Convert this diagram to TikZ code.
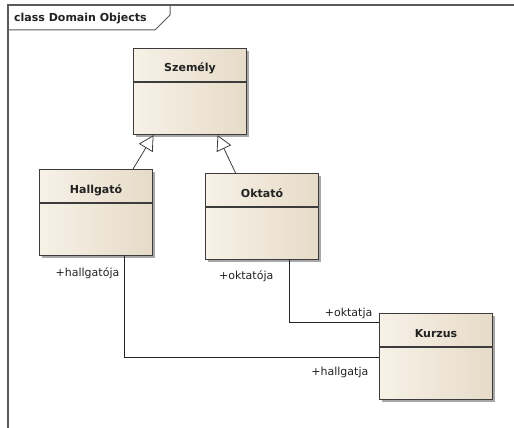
\documentclass[tikz,border=0pt]{standalone}
\usepackage{fontspec}
\setmainfont{DejaVu Sans}
\usetikzlibrary{arrows.meta,shadows}

\definecolor{frameline}{HTML}{5A5A5A}
\definecolor{boxline}{HTML}{3C3C3C}
\definecolor{boxlight}{HTML}{F7F1E7}
\definecolor{boxdark}{HTML}{E6DBC8}
\definecolor{boxshadow}{HTML}{A8A8A8}
\definecolor{labeltext}{HTML}{222222}

\tikzset{
  classbox/.style={draw=boxline, line width=1.1pt, anchor=north west,
    minimum width=113pt, minimum height=86pt, inner sep=0pt,
    left color=boxlight, right color=boxdark,
    drop shadow={shadow xshift=2.5pt, shadow yshift=-2.5pt, fill=boxshadow, opacity=1}},
  classname/.style={anchor=base, inner sep=0pt, text=labeltext,
    font=\fontsize{11}{13}\selectfont\bfseries},
  separator/.style={draw=boxline, line width=1.1pt},
  generalization/.style={draw=boxline, line width=0.8pt,
    -{Triangle[open, length=15pt, width=16pt, fill=white]}},
  association/.style={draw=black!85, line width=0.9pt},
  rolename/.style={anchor=base east, inner sep=0pt, text=labeltext,
    font=\fontsize{11}{13}\selectfont},
  frame/.style={draw=frameline, line width=1.6pt},
  tab/.style={draw=frameline, line width=1pt}
}

\begin{document}
\begin{tikzpicture}[x=1pt, y=-1pt]
  \useasboundingbox (0,0) rectangle (514,428);
  \fill[white] (0,0) rectangle (514,428);

  % diagram frame and its name tab
  \draw[frame] (514,5) -- (8,5) -- (8,428);
  \draw[tab] (8,30) -- (155,30) -- (170,15) -- (170,5);
  \node[anchor=base west, inner sep=0pt, text=labeltext,
        font=\fontsize{11}{13}\selectfont\bfseries] (frametitle) at (14,21.5) {class Domain Objects};

  % classes
  \node[classbox] (szemely) at (133,48) {};
  \node[classbox] (hallgato) at (39,169) {};
  \node[classbox] (oktato) at (205,173) {};
  \node[classbox] (kurzus) at (379,313) {};

  \foreach \c/\t in {szemely/Személy, hallgato/Hallgató, oktato/Oktató, kurzus/Kurzus}{
    \node[classname] (\c-name) at ([yshift=-24pt]\c.north) {\t};
    \draw[separator] ([yshift=-34pt]\c.north west) -- ([yshift=-34pt]\c.north east);
  }

  % inheritance
  \draw[generalization] ([xshift=37pt]hallgato.north) -- ([xshift=-36.5pt]szemely.south);
  \draw[generalization] ([xshift=-26.5pt]oktato.north) -- ([xshift=27.5pt]szemely.south);

  % associations
  \draw[association] ([xshift=28pt]hallgato.south) |- ([yshift=-1pt]kurzus.west);
  \draw[association] ([xshift=27.5pt]oktato.south) |- ([yshift=-9pt]kurzus.north west);

  % role names
  \node[rolename] (r1) at (119.5,276.5) {+hallgatója};
  \node[rolename] (r2) at (273.5,279) {+oktatója};
  \node[rolename] (r3) at (372.5,316) {+oktatja};
  \node[rolename] (r4) at (368.5,375) {+hallgatja};
\end{tikzpicture}
\end{document}
